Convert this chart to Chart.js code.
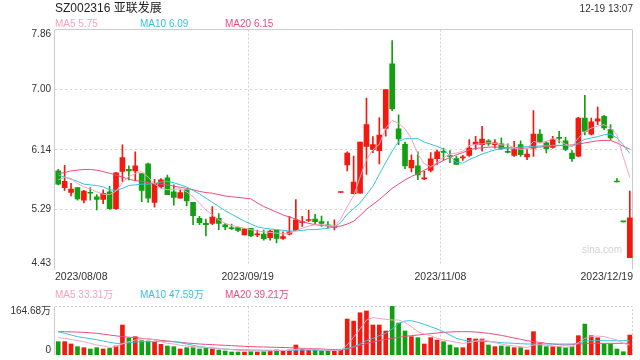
<!DOCTYPE html>
<html>
<head>
<meta charset="utf-8">
<script src="https://cdn.jsdelivr.net/npm/chart.js@4.4.0/dist/chart.umd.min.js"></script>
<style>
  body { margin: 0; background: #fff; width: 640px; height: 360px; overflow: hidden; position: relative;
         font-family: Arial, "Liberation Sans", "Noto Sans CJK SC", sans-serif; }
  .t { position: absolute; white-space: nowrap; line-height: 1; }
  #pc { position: absolute; left: 0; top: 0; }
  #vc { position: absolute; left: 0; top: 285px; }
</style>
</head>
<body>
<canvas id="pc" width="640" height="290"></canvas>
<canvas id="vc" width="640" height="75"></canvas>
<div class="t" style="left:55px;top:2px;font-size:12px;color:#222">SZ002316 亚联发展</div>
<div class="t" style="right:7px;top:4px;font-size:10px;color:#333">12-19 13:07</div>
<div class="t" style="left:55px;top:19px;font-size:10px;color:#f7a1c1">MA5 5.75</div>
<div class="t" style="left:140px;top:19px;font-size:10px;color:#36c2e0">MA10 6.09</div>
<div class="t" style="left:225px;top:19px;font-size:10px;color:#ef4a7f">MA20 6.15</div>
<div class="t" style="left:55px;top:290px;font-size:10px;color:#f7a1c1">MA5 33.31万</div>
<div class="t" style="left:140px;top:290px;font-size:10px;color:#36c2e0">MA10 47.59万</div>
<div class="t" style="left:225px;top:290px;font-size:10px;color:#ef4a7f">MA20 39.21万</div>
<script>
/* SZ002316 亚联发展 — daily K line + volume */
const dates = [
  "2023/08/08","2023/08/09","2023/08/10","2023/08/11","2023/08/14","2023/08/15","2023/08/16","2023/08/17","2023/08/18","2023/08/21",
  "2023/08/22","2023/08/23","2023/08/24","2023/08/25","2023/08/28","2023/08/29","2023/08/30","2023/08/31","2023/09/01","2023/09/04",
  "2023/09/05","2023/09/06","2023/09/07","2023/09/08","2023/09/11","2023/09/12","2023/09/13","2023/09/14","2023/09/15","2023/09/18",
  "2023/09/19","2023/09/20","2023/09/21","2023/09/22","2023/09/25","2023/09/26","2023/09/27","2023/09/28","2023/10/09","2023/10/10",
  "2023/10/11","2023/10/12","2023/10/13","2023/10/16","2023/10/17","2023/10/18","2023/10/19","2023/10/20","2023/10/23","2023/10/24",
  "2023/10/25","2023/10/26","2023/10/27","2023/10/30","2023/10/31","2023/11/01","2023/11/02","2023/11/03","2023/11/06","2023/11/07",
  "2023/11/08","2023/11/09","2023/11/10","2023/11/13","2023/11/14","2023/11/15","2023/11/16","2023/11/17","2023/11/20","2023/11/21",
  "2023/11/22","2023/11/23","2023/11/24","2023/11/27","2023/11/28","2023/11/29","2023/11/30","2023/12/01","2023/12/04","2023/12/05",
  "2023/12/06","2023/12/07","2023/12/08","2023/12/11","2023/12/12","2023/12/13","2023/12/14","2023/12/15","2023/12/18","2023/12/19"
];
const open = [5.84,5.60,5.53,5.60,5.42,5.53,5.47,5.43,5.54,5.30, 5.83,5.86,5.84,5.80,5.94,5.39,5.61,5.74,5.54,5.45,
  5.57,5.39,5.16,5.09,5.09,5.16,5.07,5.025,5.03,4.925, 5.02,4.925,4.935,4.885,4.995,4.875,4.935,4.99,5.10,5.13,
  5.15,5.115,5.06,5.03,5.53,5.925,5.515,5.52,6.19,6.145, 6.13,6.445,7.37,6.44,6.22,5.88,5.91,5.725,5.845,6.015,
  6.115,6.055,6.015,6.025,6.06,6.215,6.215,6.27,6.215,6.225, 6.115,6.06,6.215,6.04,6.165,6.365,6.24,6.175,6.315,6.27,
  6.095,6.05,6.595,6.365,6.55,6.62,6.43,5.685,5.115,4.60];
const high = [5.86,5.92,5.66,5.60,5.56,5.60,5.50,5.57,5.62,5.82, 6.21,5.91,6.11,5.80,5.95,5.72,5.73,5.78,5.64,5.57,
  5.57,5.39,5.19,5.15,5.33,5.23,5.09,5.08,5.03,5.02, 5.02,4.995,4.995,4.995,4.995,4.97,5.19,5.43,5.19,5.28,
  5.22,5.195,5.115,5.14,5.54,6.11,6.05,6.25,6.88,6.33, 6.60,7.00,7.70,6.64,6.25,6.07,6.11,5.835,6.10,6.135,
  6.165,6.13,6.05,6.06,6.285,6.335,6.475,6.285,6.285,6.31, 6.225,6.26,6.27,6.145,6.70,6.43,6.26,6.335,6.405,6.32,
  6.13,6.605,6.92,6.595,6.75,6.635,6.50,5.73,5.115,5.55];
const low = [5.64,5.56,5.48,5.42,5.38,5.42,5.28,5.37,5.29,5.29, 5.69,5.71,5.70,5.40,5.39,5.32,5.60,5.50,5.35,5.45,
  5.34,5.07,5.07,4.91,5.07,5.00,5.00,5.00,4.97,4.925, 4.90,4.90,4.85,4.85,4.81,4.86,4.925,4.985,5.045,5.115,
  5.07,5.045,5.02,4.995,5.53,5.84,5.515,5.52,5.79,6.10, 5.94,6.335,6.70,6.215,5.87,5.825,5.715,5.715,5.825,5.93,
  5.99,5.955,5.93,5.99,6.045,6.145,6.12,6.205,6.165,6.145, 6.095,6.045,6.045,6.00,6.045,6.24,6.095,6.165,6.24,6.13,
  5.975,6.04,6.355,6.355,6.50,6.43,6.285,5.68,5.11,4.60];
const close = [5.65,5.69,5.58,5.44,5.55,5.52,5.43,5.52,5.30,5.81, 6.03,5.84,5.91,5.56,5.45,5.66,5.71,5.50,5.46,5.53,
  5.41,5.20,5.10,5.07,5.18,5.09,5.04,5.015,4.99,5.01, 4.91,4.94,4.87,4.98,4.875,4.90,4.97,5.14,5.115,5.14,
  5.115,5.09,5.055,5.045,5.54,6.095,5.68,6.25,6.50,6.215, 6.35,7.00,6.725,6.295,5.91,5.99,5.78,5.735,6.01,6.11,
  6.105,6.045,5.93,6.04,6.165,6.25,6.295,6.225,6.24,6.155, 6.105,6.145,6.07,6.08,6.365,6.255,6.155,6.295,6.305,6.145,
  6.015,6.595,6.405,6.54,6.585,6.455,6.31,5.68,5.11,5.17];
const ma5 = [5.71,5.75,5.73,5.66,5.61,5.58,5.54,5.505,5.50,5.55, 5.67,5.76,5.80,5.83,5.75,5.65,5.59,5.57,5.575,5.585,
  5.54,5.47,5.38,5.28,5.21,5.14,5.09,5.06,5.04,5.02, 5.00,4.98,4.97,4.96,4.95,4.94,4.95,4.98,5.02,5.05,
  5.07,5.07,5.06,5.05,5.15,5.33,5.48,5.75,6.00,6.14, 6.22,6.45,6.56,6.52,6.44,6.30,6.08,5.94,5.90,5.96,
  6.03,6.08,6.095,6.12,6.20,6.22,6.225,6.245,6.23,6.21, 6.21,6.17,6.145,6.16,6.26,6.24,6.26,6.30,6.27,6.22,
  6.19,6.31,6.40,6.45,6.48,6.50,6.45,6.36,6.03,5.75];
const ma10 = [5.78,5.75,5.72,5.69,5.65,5.64,5.63,5.61,5.57,5.56, 5.59,5.63,5.64,5.65,5.65,5.66,5.68,5.69,5.67,5.64,
  5.61,5.56,5.51,5.45,5.39,5.33,5.27,5.22,5.17,5.12, 5.08,5.04,5.02,5.01,5.00,4.99,4.98,4.98,4.99,5.00,
  5.00,5.01,5.02,5.04,5.10,5.22,5.30,5.38,5.50,5.62, 5.79,5.96,6.12,6.26,6.30,6.30,6.30,6.25,6.22,6.19,
  6.15,6.05,5.96,5.95,6.00,6.04,6.08,6.11,6.14,6.155, 6.165,6.17,6.18,6.185,6.19,6.195,6.20,6.205,6.205,6.205,
  6.19,6.24,6.29,6.31,6.33,6.355,6.365,6.31,6.21,6.09];
const ma20 = [5.80,5.815,5.84,5.85,5.86,5.86,5.85,5.83,5.805,5.78, 5.75,5.72,5.70,5.69,5.67,5.66,5.65,5.64,5.62,5.605,
  5.59,5.57,5.545,5.53,5.52,5.50,5.48,5.47,5.46,5.45, 5.44,5.38,5.33,5.29,5.25,5.21,5.18,5.15,5.11,5.09,
  5.07,5.06,5.05,5.045,5.05,5.08,5.12,5.20,5.29,5.36, 5.43,5.51,5.59,5.65,5.71,5.76,5.80,5.85,5.89,5.94,
  5.99,6.03,6.07,6.10,6.14,6.16,6.17,6.18,6.18,6.175, 6.17,6.165,6.16,6.165,6.175,6.18,6.19,6.195,6.20,6.205,
  6.21,6.22,6.24,6.255,6.27,6.275,6.275,6.24,6.19,6.15];
const vol = [44.8,44.8,37.0,28.0,24.6,20.2,24.6,20.2,22.4,30.3, 100.8,57.1,61.6,48.2,47.1,42.6,35.8,30.3,28.0,20.2,
  24.6,24.6,20.2,22.4,20.2,16.8,13.4,10.1,10.1,10.1, 11.2,10.1,11.2,13.4,16.8,13.4,16.8,33.6,20.2,16.8,
  16.8,13.4,13.4,13.4,16.8,121,114,142,148,100.8, 100.8,80.7,164.68,107.5,80.7,61.6,58.3,37,58.3,50.4,
  44.8,33.6,24.6,24.6,56,53.8,53.8,33.6,28,30.3, 28,24.6,24.6,16.8,78.4,39.2,28,28,28,24.6,
  28,65,104,65,58,37,37,20,11,67];
const volMa5 = [58.3,56,52.7,48.2,44.8,39.2,33.6,30.3,25.8,28, 37,44.8,50.4,53.8,56,50.4,44.8,39.2,37,32.5,
  30.3,28,25.8,24.6,23.5,22.4,20,18,16,15, 14,13.5,13.5,14,15,15,16,19,20,20,
  20,18,16,15,16.8,33.6,60,88,117.6,125.4, 123,119.8,117.6,117.6,109.8,95,78.4,70.6,65,56,
  50.4,47,42.6,39.2,41.4,47,50.4,47,41.4,37, 32.5,30.3,28,24.6,33.6,34.7,32.5,30.3,28,25.8,
  28,41.4,56,61.6,63.9,61.6,56,50.4,39.2,33.3];
const volMa10 = [78.4,72.8,67.2,61.6,58.3,54.9,51.5,47,42.6,39.2, 39.2,41.4,43.7,44.8,44.8,44.8,45.9,45.9,44.8,41.4,
  37,32.5,28,25.8,23.5,21.3,20,19,18,17.5, 17,16.5,16,16,15.5,15,15,16,16.5,16.5,
  16.5,16,16,16.5,17,22.4,28,37,48.2,56, 65,72.8,87.4,106.4,114.2,115.4,109.8,103,95.2,87.4,
  78.4,67.2,56,50.4,47,45.9,45.9,44.8,43.7,41.4, 40.3,39.2,38,37,37,37,37,37,37,37,
  37,39.2,47,48,48,48,48,48,48,47.6];
const volMa20 = [78.4,78.4,77.8,77,76,74.5,72.8,70,67.2,64.4, 61.6,60,58.3,56,53.8,51.5,49.3,47,44.8,42.6,
  40.3,38.6,37,35.8,34.7,33.6,32.5,31.4,30.3,29.1, 28,27.4,26.9,26.3,25.8,25.2,24.6,23.5,22.4,21.8,
  21.3,20.2,19,17.9,17.9,19,25.8,32.5,39.2,43.7, 48.2,52.7,56,59.4,62.7,65,67.2,69.5,71.7,73.9,
  76.2,77.3,78.4,78.4,78.4,77.3,75,72.8,69.5,66, 61.6,57.1,52.7,48.2,44.8,42.6,39.2,37,34.7,33.6,
  34.7,37,38,39.2,39.2,39.2,39.2,39.2,39.2,39.2];
const priceTicks = [4.43, 5.29, 6.14, 7.00, 7.86];
const volTicks = [0, 164.68];
const volTickLabels = ["0", "164.68万"];
const dateTicks = ["2023/08/08", "2023/09/19", "2023/11/08", "2023/12/19"];

const RED = "#f2190e", GREEN = "#12a012";
const C5 = "#f7a1c1", C10 = "#36c2e0", C20 = "#ef4a7f";
const FONT = 'Arial, "Liberation Sans", "Noto Sans CJK SC", sans-serif';
const colors = dates.map((d, i) => close[i] >= open[i] ? RED : GREEN);

function slotEdge(x, i) { return (x.getPixelForValue(i - 1) + x.getPixelForValue(i)) / 2; }
function maLine(data, color) {
  return { type: "line", data, borderColor: color, borderWidth: 1, pointRadius: 0, tension: 0, order: 0 };
}
function baseOpts(padTop, padBottom, yMin, yMax) {
  return {
    responsive: false, animation: false, events: [], devicePixelRatio: 1,
    layout: { padding: { top: padTop, right: 7, bottom: padBottom, left: 0 } },
    plugins: { legend: { display: false }, tooltip: { enabled: false } },
    scales: {
      x: { display: false, offset: true },
      y: { min: yMin, max: yMax, afterFit: s => { s.width = 55; }, ticks: { display: false },
           grid: { display: false }, border: { display: false } }
    }
  };
}

/* ── price chart ── */
const priceDeco = {
  id: "priceDeco",
  beforeDatasetsDraw(chart) {
    const { ctx, chartArea: a, scales: { x } } = chart;
    const top = Math.floor(a.top) + .5;
    ctx.save();
    ctx.strokeStyle = "#cccccc"; ctx.lineWidth = 1;
    ctx.beginPath();
    ctx.moveTo(a.left - .5, a.bottom); ctx.lineTo(a.left - .5, top);
    ctx.lineTo(a.right - .5, top); ctx.lineTo(a.right - .5, a.bottom);
    ctx.stroke();
    ctx.setLineDash([2, 2]); ctx.strokeStyle = "#d0d0d0";
    dateTicks.slice(1, 3).forEach(d => {
      const px = Math.round(slotEdge(x, dates.indexOf(d))) + .5;
      ctx.beginPath(); ctx.moveTo(px, top); ctx.lineTo(px, a.bottom - 6); ctx.stroke();
    });
    ctx.font = "10px " + FONT; ctx.fillStyle = "#d2d2d2"; ctx.textAlign = "right"; ctx.textBaseline = "alphabetic";
    ctx.fillText("sina.com", 622, 253);
    ctx.restore();
  },
  afterDraw(chart) {
    const { ctx, chartArea: a, scales: { x, y } } = chart;
    const last = priceTicks.length - 1;
    ctx.save();
    ctx.fillStyle = "#333"; ctx.font = "10px " + FONT; ctx.textAlign = "right";
    priceTicks.forEach((v, k) => {
      ctx.textBaseline = k === 0 ? "bottom" : k === last ? "top" : "middle";
      const py = y.getPixelForValue(v) + (k === 0 ? -1.5 : 0);
      ctx.fillText(v.toFixed(2), 51, py);
    });
    ctx.font = "10.5px " + FONT; ctx.textBaseline = "middle";
    dateTicks.forEach((d, k) => {
      let px = slotEdge(x, dates.indexOf(d)), al = "center";
      if (k === 0) { px = a.left; al = "left"; }
      if (k === dateTicks.length - 1) { px = a.right; al = "right"; }
      ctx.textAlign = al; ctx.fillText(d, px, 277.5);
    });
    ctx.restore();
  }
};

const pOpts = baseOpts(29.5, 20.5, priceTicks[0], priceTicks[priceTicks.length - 1]);
pOpts.scales.y.afterBuildTicks = s => { s.ticks = priceTicks.map(v => ({ value: v })); };
pOpts.scales.y.grid = { display: true, drawTicks: false, lineWidth: 1,
  color: c => (c.tick && (c.tick.value === priceTicks[0] || c.tick.value === priceTicks[priceTicks.length - 1])) ? "rgba(0,0,0,0)" : "#d2d2d2" };
pOpts.scales.y.border = { display: false, dash: [2, 3] };

new Chart(document.getElementById("pc"), {
  type: "bar",
  data: {
    labels: dates,
    datasets: [
      maLine(ma5, C5), maLine(ma10, C10), maLine(ma20, C20),
      { data: dates.map((d, i) => [open[i], close[i]]), backgroundColor: colors, barThickness: 5,
        grouped: false, minBarLength: 1, order: 1 },
      { data: dates.map((d, i) => [low[i], high[i]]), backgroundColor: colors, barThickness: 1,
        grouped: false, order: 2 }
    ]
  },
  options: pOpts,
  plugins: [priceDeco]
});

/* ── volume chart ── */
const volDeco = {
  id: "volDeco",
  beforeDatasetsDraw(chart) {
    const { ctx, chartArea: a, scales: { x } } = chart;
    const top = Math.floor(a.top) + .5;
    ctx.save();
    ctx.strokeStyle = "#cccccc"; ctx.lineWidth = 1;
    ctx.beginPath(); ctx.moveTo(a.left - .5, a.bottom); ctx.lineTo(a.left - .5, top); ctx.stroke();
    ctx.setLineDash([2, 2]); ctx.strokeStyle = "#d0d0d0";
    ctx.beginPath(); ctx.moveTo(a.left, top); ctx.lineTo(a.right - .5, top); ctx.lineTo(a.right - .5, a.bottom); ctx.stroke();
    dateTicks.slice(1, 3).forEach(d => {
      const px = Math.round(slotEdge(x, dates.indexOf(d))) + .5;
      ctx.beginPath(); ctx.moveTo(px, top); ctx.lineTo(px, a.bottom); ctx.stroke();
    });
    ctx.restore();
  },
  afterDraw(chart) {
    const { ctx, scales: { y } } = chart;
    ctx.save();
    ctx.fillStyle = "#333"; ctx.font = "10px " + FONT; ctx.textAlign = "right";
    volTicks.forEach((v, k) => {
      ctx.textBaseline = k === 0 ? "bottom" : "top";
      ctx.fillText(volTickLabels[k], 51, y.getPixelForValue(v));
    });
    ctx.restore();
  }
};

new Chart(document.getElementById("vc"), {
  type: "bar",
  data: {
    labels: dates,
    datasets: [
      maLine(volMa5, C5), maLine(volMa10, C10), maLine(volMa20, C20),
      { data: vol, backgroundColor: colors, barThickness: 4, grouped: false, order: 1 }
    ]
  },
  options: baseOpts(21, 5, volTicks[0], volTicks[1]),
  plugins: [volDeco]
});
</script>
</body>
</html>
